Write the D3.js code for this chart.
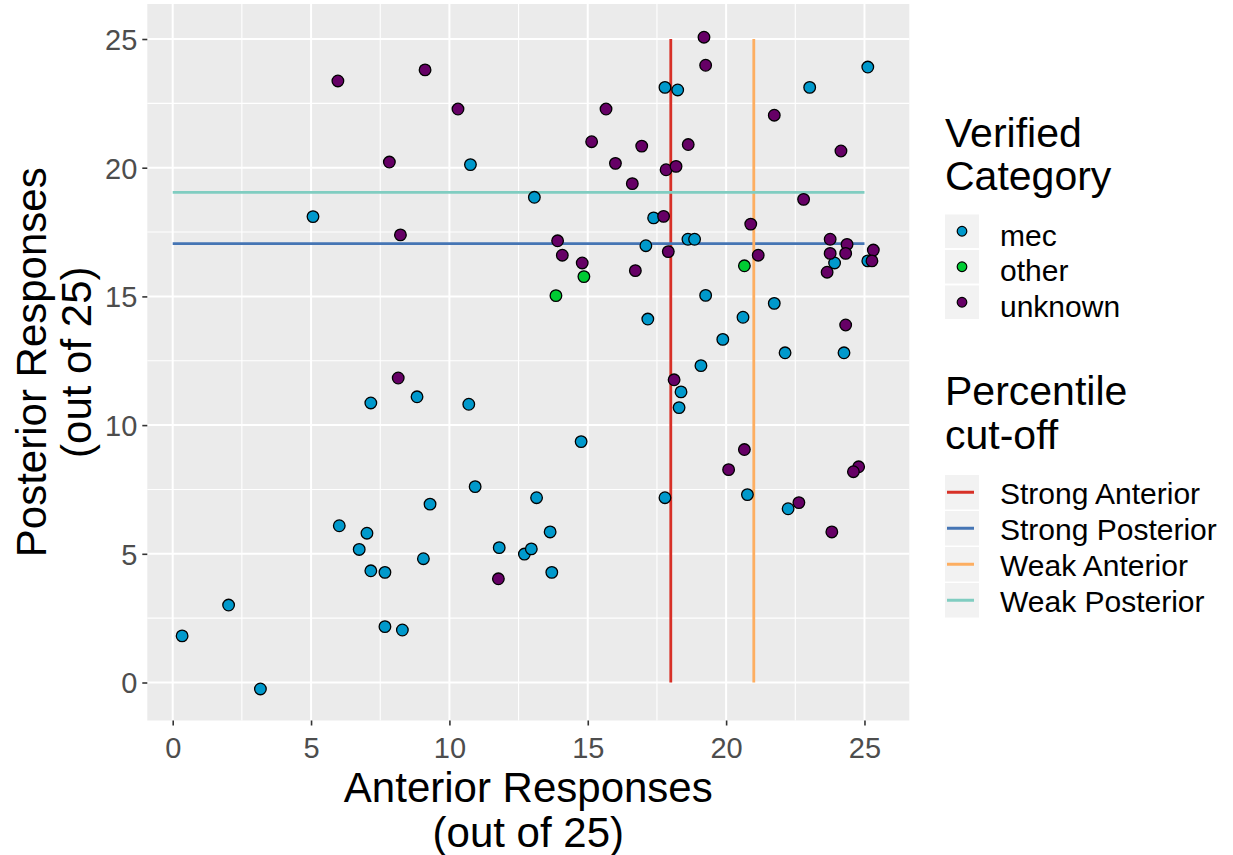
<!DOCTYPE html>
<html>
<head>
<meta charset="utf-8">
<script src="https://cdn.jsdelivr.net/npm/d3@7"></script>
<style>
  body { margin: 0; background: #fff; }
  text { font-family: "Liberation Sans", Arial, sans-serif; }
</style>
</head>
<body>
<div id="chart"></div>
<script>
// categories of the points
const categories = ['mec', 'other', 'unknown'];
const categoryColors = ['#0099CC', '#00CC33', '#660066'];

// [anterior, posterior] pairs for each category
const mecPoints = [
  [10.76,20.12],[13.07,18.85],[5.07,18.10],[17.79,23.12],[18.25,23.02],[23.02,23.12],[25.12,23.91],
  [17.38,18.05],[17.10,16.97],[18.62,17.22],[18.86,17.22],[23.92,16.30],[25.12,16.38],[19.26,15.04],
  [21.74,14.73],[17.17,14.12],[20.61,14.19],[19.88,13.33],[22.13,12.81],[24.26,12.81],[19.09,12.31],
  [18.37,11.29],[18.30,10.68],[14.76,9.36],[17.79,7.18],[20.77,7.30],[22.24,6.75],[13.64,5.85],
  [13.70,4.28],[7.16,10.86],[8.83,11.10],[10.70,10.81],[10.93,7.61],[9.30,6.93],[13.15,7.18],
  [6.02,6.09],[7.02,5.80],[6.74,5.17],[9.06,4.81],[7.16,4.34],[7.67,4.28],[11.80,5.24],
  [12.71,4.99],[12.96,5.19],[2.02,3.01],[0.34,1.81],[3.17,-0.25],[7.67,2.17],[8.30,2.04]
];
const otherPoints = [
  [14.86,15.77],[20.66,16.19],[13.85,15.03]
];
const unknownPoints = [
  [5.97,23.37],[9.12,23.80],[10.31,22.28],[7.83,20.22],[8.23,17.39],[19.20,25.07],[19.26,23.98],
  [15.66,22.28],[21.74,22.04],[15.14,21.01],[16.95,20.84],[18.63,20.90],[24.15,20.65],[16.00,20.17],
  [17.83,19.92],[18.19,20.05],[16.61,19.38],[22.80,18.77],[17.74,18.11],[20.89,17.81],[13.91,17.16],
  [14.08,16.60],[17.91,16.74],[21.16,16.60],[14.80,16.30],[16.72,16.00],[23.76,17.22],[24.37,17.02],
  [23.76,16.67],[24.32,16.67],[23.65,15.94],[25.32,16.80],[25.27,16.38],[24.32,13.89],[18.12,11.76],
  [20.66,9.05],[20.09,8.27],[24.79,8.38],[24.60,8.19],[22.63,6.99],[23.82,5.85],[8.15,11.83],[11.77,4.03]
];
const seriesPoints = [mecPoints, otherPoints, unknownPoints];

// percentile cut-off lines
const cutoffNames = ['Strong Anterior', 'Strong Posterior', 'Weak Anterior', 'Weak Posterior'];
const cutoffValues = [18, 17.05, 21, 19.04];
const cutoffAxis = ['x', 'y', 'x', 'y'];
const cutoffColors = ['#D73027', '#4575B4', '#FDAE61', '#80CDC1'];
const cutoffSpan = [0, 25];

// ticks
const majorTicks = [0, 5, 10, 15, 20, 25];
const minorTicks = [2.5, 7.5, 12.5, 17.5, 22.5];

// layout
const W = 1233, H = 855;
const panel = {l: 147.3, r: 909.3, t: 4, b: 720.5};

const svg = d3.select('#chart')
  .append('svg')
  .attr('width', W)
  .attr('height', H);

// scales (domain carries ggplot's 5% expansion)
const x = d3.scaleLinear().domain([-0.918, 26.62]).range([panel.l, panel.r]);
const y = d3.scaleLinear().domain([-1.476, 26.36]).range([panel.b, panel.t]);

// panel background
svg.append('rect')
  .attr('x', panel.l).attr('y', panel.t)
  .attr('width', panel.r - panel.l).attr('height', panel.b - panel.t)
  .attr('fill', '#EBEBEB');

// grid lines
const grid = svg.append('g');
grid.selectAll('.minor-x').data(minorTicks).enter().append('line')
  .attr('x1', d => x(d)).attr('x2', d => x(d))
  .attr('y1', panel.t).attr('y2', panel.b)
  .attr('stroke', '#fff').attr('stroke-width', 1.1);
grid.selectAll('.minor-y').data(minorTicks).enter().append('line')
  .attr('y1', d => y(d)).attr('y2', d => y(d))
  .attr('x1', panel.l).attr('x2', panel.r)
  .attr('stroke', '#fff').attr('stroke-width', 1.1);
grid.selectAll('.major-x').data(majorTicks).enter().append('line')
  .attr('x1', d => x(d)).attr('x2', d => x(d))
  .attr('y1', panel.t).attr('y2', panel.b)
  .attr('stroke', '#fff').attr('stroke-width', 2);
grid.selectAll('.major-y').data(majorTicks).enter().append('line')
  .attr('y1', d => y(d)).attr('y2', d => y(d))
  .attr('x1', panel.l).attr('x2', panel.r)
  .attr('stroke', '#fff').attr('stroke-width', 2);

// axes
const axisX = d3.axisBottom(x).tickValues(majorTicks).tickSize(5).tickPadding(8);
const axisY = d3.axisLeft(y).tickValues(majorTicks).tickSize(5).tickPadding(5);

const axisXNode = svg.append('g')
  .attr('transform', `translate(0,${panel.b})`)
  .call(axisX);
const axisYNode = svg.append('g')
  .attr('transform', `translate(${panel.l},0)`)
  .call(axisY);

[axisXNode, axisYNode].forEach(n => {
  n.select('.domain').remove();
  n.selectAll('line').attr('stroke', '#333333').attr('stroke-width', 1.6);
  n.selectAll('text')
    .attr('fill', '#4D4D4D')
    .style('font-size', '29px')
    .style('font-family', '"Liberation Sans", Arial, sans-serif');
});
axisXNode.selectAll('text').attr('dy', null).attr('y', 37);
axisYNode.selectAll('text').attr('dy', '0.36em');

// cut-off lines
const cutoffs = cutoffNames.map((name, i) => ({
  name: name, value: cutoffValues[i], axis: cutoffAxis[i], color: cutoffColors[i]
}));
svg.append('g').selectAll('line').data(cutoffs).enter().append('line')
  .attr('x1', d => d.axis === 'x' ? x(d.value) : x(cutoffSpan[0]))
  .attr('x2', d => d.axis === 'x' ? x(d.value) : x(cutoffSpan[1]))
  .attr('y1', d => d.axis === 'x' ? y(cutoffSpan[0]) : y(d.value))
  .attr('y2', d => d.axis === 'x' ? y(cutoffSpan[1]) : y(d.value))
  .attr('stroke', d => d.color)
  .attr('stroke-width', 2.8);

// points, drawn category by category
const points = svg.append('g');
categories.forEach((cat, i) => {
  points.selectAll('.pt-' + cat).data(seriesPoints[i]).enter().append('circle')
    .attr('class', 'pt-' + cat)
    .attr('cx', d => x(d[0]))
    .attr('cy', d => y(d[1]))
    .attr('r', 5.8)
    .attr('fill', categoryColors[i])
    .attr('stroke', '#000')
    .attr('stroke-width', 1.3);
});

// axis titles
const xTitle = svg.append('text')
  .attr('text-anchor', 'middle')
  .style('font-size', '42px')
  .attr('fill', '#000');
xTitle.append('tspan').attr('x', (panel.l + panel.r) / 2).attr('y', 801.5).text('Anterior Responses');
xTitle.append('tspan').attr('x', (panel.l + panel.r) / 2).attr('y', 846.5).text('(out of 25)');

const yMid = (panel.t + panel.b) / 2;
const yTitle = svg.append('text')
  .attr('text-anchor', 'middle')
  .attr('transform', 'rotate(-90)')
  .style('font-size', '42px')
  .attr('fill', '#000');
yTitle.append('tspan').attr('x', -yMid).attr('y', 46).text('Posterior Responses');
yTitle.append('tspan').attr('x', -yMid).attr('y', 91).text('(out of 25)');

// legends
const legend = svg.append('g').attr('transform', 'translate(945,0)');
const keyW = 34;

function legendTitle(lines, y0) {
  const t = legend.append('text').style('font-size', '41px').attr('fill', '#000');
  lines.forEach((l, i) => t.append('tspan').attr('x', 0).attr('y', y0 + i * 43.5).text(l));
}

// category legend
const catKeyH = 33.5, catStep = 35.5;
legendTitle(['Verified', 'Category'], 146.5);
const catKeys = legend.selectAll('.cat-key').data(categories).enter().append('g')
  .attr('class', 'cat-key')
  .attr('transform', (d, i) => `translate(0,${214.5 + i * catStep})`);
catKeys.append('rect').attr('width', keyW).attr('height', catKeyH).attr('fill', '#F2F2F2');
catKeys.append('circle')
  .attr('cx', keyW / 2).attr('cy', catKeyH / 2).attr('r', 4.8)
  .attr('fill', (d, i) => categoryColors[i])
  .attr('stroke', '#000').attr('stroke-width', 1.2);
catKeys.append('text')
  .attr('x', 55).attr('y', catKeyH / 2 + 14.5)
  .style('font-size', '30px')
  .text(d => d);

// cut-off legend
const lineKeyH = 34.5, lineStep = 36;
legendTitle(['Percentile', 'cut-off'], 405);
const lineKeys = legend.selectAll('.line-key').data(cutoffs).enter().append('g')
  .attr('class', 'line-key')
  .attr('transform', (d, i) => `translate(0,${475 + i * lineStep})`);
lineKeys.append('rect').attr('width', keyW).attr('height', lineKeyH).attr('fill', '#F2F2F2');
lineKeys.append('line')
  .attr('x1', 2).attr('x2', 29)
  .attr('y1', lineKeyH / 2).attr('y2', lineKeyH / 2)
  .attr('stroke', d => d.color).attr('stroke-width', 3);
lineKeys.append('text')
  .attr('x', 55).attr('y', lineKeyH / 2 + 11.5)
  .style('font-size', '30px')
  .text(d => d.name);
</script>
</body>
</html>
